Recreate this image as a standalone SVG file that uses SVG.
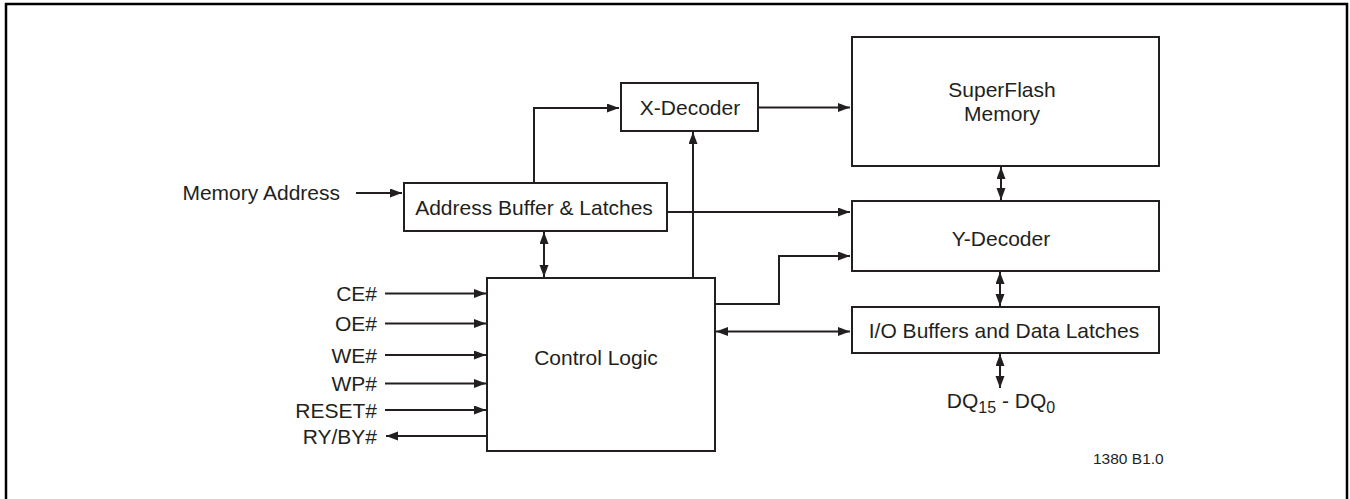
<svg xmlns="http://www.w3.org/2000/svg" width="1350" height="499" viewBox="0 0 1350 499">
<defs>
<marker id="ah" markerUnits="userSpaceOnUse" markerWidth="13" markerHeight="10" refX="12" refY="4.5" orient="auto-start-reverse">
<path d="M0,0 L12,4.5 L0,9 z" fill="#231f20"/>
</marker>
<style>
.box{fill:#fff;stroke:#231f20;stroke-width:2}
.ln{fill:none;stroke:#231f20;stroke-width:2}
.a{marker-end:url(#ah)}
.b{marker-start:url(#ah);marker-end:url(#ah)}
text{font-family:"Liberation Sans",Arial,sans-serif;font-size:21px;fill:#231f20}
.c{text-anchor:middle}
.r{text-anchor:end}
</style>
</defs>
<rect width="1350" height="499" fill="#fff"/>
<path d="M6,499 V4 H1347 V499" fill="none" stroke="#000" stroke-width="2.5"/>

<g id="connectors">
<path class="ln a" d="M356,193 H402"/>
<path class="ln a" d="M534,183 V108 H619"/>
<path class="ln a" d="M758,107.5 H850"/>
<path class="ln a" d="M693,278 V132"/>
<path class="ln b" d="M544,232 V277"/>
<path class="ln a" d="M667,212 H850"/>
<path class="ln a" d="M715,304 H779 V256 H850"/>
<path class="ln b" d="M716,331.5 H850"/>
<path class="ln b" d="M1001,167 V200"/>
<path class="ln b" d="M1000,272 V306"/>
<path class="ln b" d="M1000,354 V388"/>
<path class="ln a" d="M385,293.5 H486"/>
<path class="ln a" d="M385,323.5 H486"/>
<path class="ln a" d="M385,355 H486"/>
<path class="ln a" d="M385,383.5 H486"/>
<path class="ln a" d="M385,410 H486"/>
<path class="ln a" d="M487,436 H386"/>
</g>

<g id="x-decoder">
<rect class="box" x="621" y="83" width="137" height="48"/>
<text class="c" x="690" y="115">X-Decoder</text>
</g>
<g id="superflash-memory">
<rect class="box" x="852" y="37" width="307" height="129"/>
<text class="c" x="1002" y="97">SuperFlash</text>
<text class="c" x="1002" y="121">Memory</text>
</g>
<g id="address-buffer">
<rect class="box" x="404" y="183" width="263" height="48"/>
<text class="c" x="534" y="215">Address Buffer &amp; Latches</text>
</g>
<g id="memory-address">
<text class="r" x="340" y="199.5">Memory Address</text>
</g>
<g id="y-decoder">
<rect class="box" x="852" y="201" width="307" height="70"/>
<text class="c" x="1001" y="246">Y-Decoder</text>
</g>
<g id="io-buffers">
<rect class="box" x="852" y="307" width="307" height="46"/>
<text class="c" x="1004" y="338">I/O Buffers and Data Latches</text>
</g>
<g id="control-logic">
<rect class="box" x="487" y="278" width="228" height="173"/>
<text class="c" x="596" y="365">Control Logic</text>
</g>
<g id="signals">
<text class="r" x="377" y="301">CE#</text>
<text class="r" x="377" y="331">OE#</text>
<text class="r" x="377" y="362.5">WE#</text>
<text class="r" x="377" y="391">WP#</text>
<text class="r" x="377" y="417.5">RESET#</text>
<text class="r" x="377" y="443.5">RY/BY#</text>
</g>
<g id="dq">
<text class="c" x="1001" y="407.5">DQ<tspan font-size="16" dy="5">15</tspan><tspan dy="-5"> - DQ</tspan><tspan font-size="16" dy="5">0</tspan></text>
</g>
<text x="1093" y="464" style="font-size:15.5px">1380 B1.0</text>
</svg>
